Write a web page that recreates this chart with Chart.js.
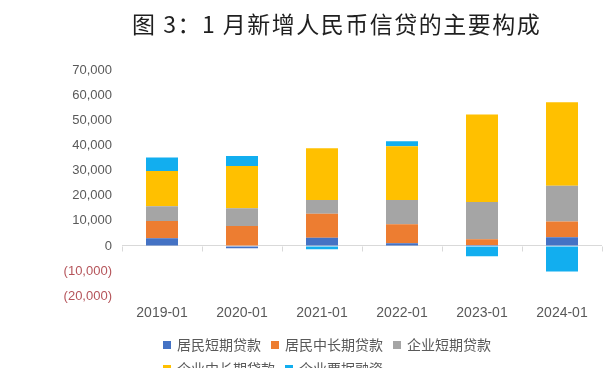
<!DOCTYPE html>
<html>
<head>
<meta charset="utf-8">
<script src="https://cdn.jsdelivr.net/npm/chart.js@4.4.1/dist/chart.umd.min.js"></script>
<style>
    html, body { margin: 0; padding: 0; background: #fff; }
    #wrap { position: relative; width: 608px; height: 368px; overflow: hidden; }
    #chart { position: absolute; left: 0; top: 0; }
    #title {
        position: absolute; left: 132px; top: 6px; white-space: nowrap;
        font-family: "Noto Sans CJK SC", sans-serif; font-size: 23px; font-weight: 400; color: #1f1f1f;
        letter-spacing: 1.5px;
    }
    #legend {
        position: absolute; left: 163px; top: 332px; width: 345px;
        font-family: "Noto Sans CJK SC", sans-serif; font-size: 14px; color: #595959;
        line-height: 24px;
    }
    #legend span.item { display: inline-block; margin-right: 10px; white-space: nowrap; }
    #legend i { display: inline-block; width: 8px; height: 8px; margin-right: 6px; vertical-align: 1px; }
</style>
</head>
<body>
<div id="wrap">
    <canvas id="chart" width="608" height="368"></canvas>
    <div id="title">图 3：1 月新增人民币信贷的主要构成</div>
    <div id="legend"></div>
</div>
<script>
// 单位：亿元
const meses = ['2019-01', '2020-01', '2021-01', '2022-01', '2023-01', '2024-01'];
const nomes = ['居民短期贷款', '居民中长期贷款', '企业短期贷款', '企业中长期贷款', '企业票据融资'];
const cores = ['#4472C4', '#ED7D31', '#A5A5A5', '#FFC000', '#12AEEF'];

const residCurto = [3050, -930, 3300, 1060, 350, 3450];
const residLongo = [6900, 7960, 9550, 7560, 2300, 6250];
const empCurto = [5840, 7030, 5440, 9680, 14800, 14200];
const empLongo = [14060, 16840, 20560, 21350, 34800, 33300];
const empTitulos = [5300, 3980, -1330, 1990, -4100, -10200];

const series = [residCurto, residLongo, empCurto, empLongo, empTitulos];

const fonteEixo = { family: '"Liberation Sans", "Noto Sans CJK SC", sans-serif', size: 13 };

// marquinhas no eixo zero entre as categorias
const marcasZero = {
    id: 'marcasZero',
    afterDatasetsDraw(chart) {
        const x = chart.scales.x, y = chart.scales.y;
        const y0 = Math.round(y.getPixelForValue(0)) + 0.5;
        const passo = x.getPixelForValue(1) - x.getPixelForValue(0);
        const c = chart.ctx;
        c.save();
        c.strokeStyle = '#D9D9D9';
        c.lineWidth = 1;
        for (let i = 0; i <= meses.length; i++) {
            const px = Math.round(x.getPixelForValue(0) - passo / 2 + i * passo) + 0.5;
            c.beginPath();
            c.moveTo(px, y0);
            c.lineTo(px, y0 + 5);
            c.stroke();
        }
        c.restore();
    }
};

function formatar(v) {
    const s = Math.abs(v).toLocaleString('en-US');
    return v < 0 ? '(' + s + ')' : s;
}

const ctx = document.getElementById('chart').getContext('2d');

const grafico = new Chart(ctx, {
    type: 'bar',
    data: {
        labels: meses,
        datasets: series.map((dados, i) => ({
            label: nomes[i],
            data: dados,
            backgroundColor: cores[i],
            borderWidth: 0,
            categoryPercentage: 0.8,
            barPercentage: 0.5
        }))
    },
    options: {
        responsive: false,
        animation: false,
        layout: { padding: { top: 70, right: 6, bottom: 45, left: 0 } },
        plugins: {
            legend: { display: false },
            tooltip: { enabled: false }
        },
        scales: {
            x: {
                stacked: true,
                grid: { display: false },
                border: { display: false },
                ticks: { color: '#595959', font: { ...fonteEixo, size: 14 }, padding: 1, maxRotation: 0 }
            },
            y: {
                stacked: true,
                min: -20000,
                max: 70000,
                afterFit(s) { s.width = 122; },
                border: { display: false },
                grid: {
                    drawTicks: false,
                    color: c => (c.tick && c.tick.value === 0) ? '#D9D9D9' : 'rgba(0,0,0,0)'
                },
                ticks: {
                    stepSize: 10000,
                    padding: 10,
                    font: fonteEixo,
                    color: c => c.tick.value < 0 ? '#B5545A' : '#595959',
                    callback: v => formatar(v)
                }
            }
        }
    },
    plugins: [marcasZero]
});

// legenda em html, feita a partir dos datasets
const legenda = document.getElementById('legend');
grafico.data.datasets.forEach(ds => {
    const item = document.createElement('span');
    item.className = 'item';
    item.innerHTML = `<i style="background:${ds.backgroundColor}"></i>${ds.label}`;
    legenda.appendChild(item);
});
</script>
</body>
</html>
